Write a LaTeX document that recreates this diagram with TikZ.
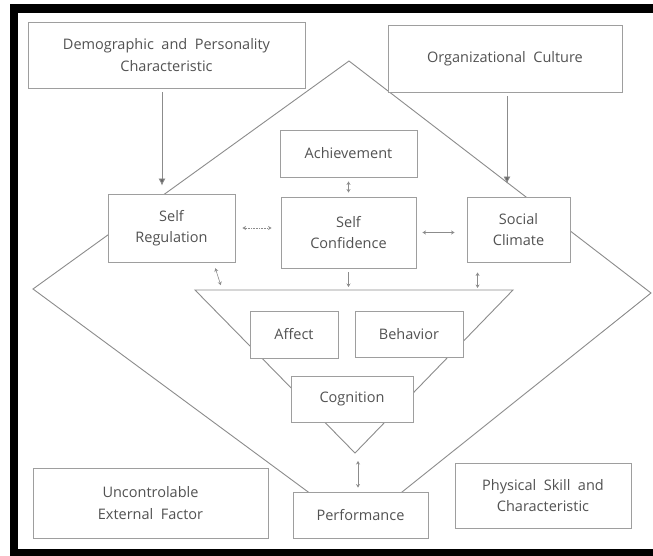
\documentclass[tikz,border=0pt]{standalone}
\usepackage{fontspec}
\setmainfont{Open Sans}
\usetikzlibrary{arrows.meta}
\definecolor{linec}{gray}{0.55}
\definecolor{boxc}{gray}{0.62}
\definecolor{txtc}{gray}{0.32}
\begin{document}
\begin{tikzpicture}[x=1pt,y=-1pt,
  box/.style={draw=boxc, fill=white, line width=0.9pt, text=txtc, align=center,
    inner sep=0pt, font=\fontsize{14.5}{21.5}\selectfont},
  frame/.style={line width=0.9pt, draw=linec},
  bigarr/.style={draw=linec, line width=0.8pt, -{Latex[length=7pt,width=7pt,fill=gray!80!black]}},
  smallarr/.style={draw=linec, line width=0.6pt, {Stealth[length=3.5pt,width=4pt]}-{Stealth[length=3.5pt,width=4pt]}},
  onearr/.style={draw=linec, line width=0.6pt, -{Stealth[length=3.5pt,width=4pt]}}]
\useasboundingbox (0,0) rectangle (653,556);
\fill[white] (0,0) rectangle (653,556);
% black scan frame
\fill[black] (10,4) rectangle (653,13);
\fill[black] (10,4) rectangle (18,556);
\fill[black] (10,549) rectangle (653,556);
% diamond
\coordinate (dT) at (349,61);
\coordinate (dL) at (33,289);
\coordinate (dR) at (651,293);
\coordinate (dB) at (357,528);
\draw[frame] (dT) -- (dL) -- (dB) -- (dR) -- cycle;
% inverted triangle
\coordinate (tL) at (195,290);
\coordinate (tR) at (513,290);
\coordinate (tA) at (355,453);
\draw[frame] (tL) -- (tR) -- (tA) -- cycle;
% boxes
\node[box, minimum width=277pt, minimum height=66pt] (dem) at (166.5,55) {Demographic\ \ and\ \ Personality\\Characteristic};
\node[box, minimum width=234pt, minimum height=67pt] (org) at (505,58.5) {Organizational\ \ Culture};
\node[box, minimum width=137pt, minimum height=47pt] (ach) at (348.5,153.5) {Achievement};
\node[box, minimum width=135pt, minimum height=71pt] (sc) at (348.5,232.5) {Self\\Confidence};
\node[box, minimum width=127pt, minimum height=68pt] (sr) at (171.5,228) {Self\\Regulation};
\node[box, minimum width=103pt, minimum height=65pt] (soc) at (518.5,229.5) {Social\\Climate};
\node[box, minimum width=88pt, minimum height=47pt] (aff) at (294,334.5) {Affect};
\node[box, minimum width=108pt, minimum height=46pt] (beh) at (409,334) {Behavior};
\node[box, minimum width=122pt, minimum height=46pt] (cog) at (352,399) {Cognition};
\node[box, minimum width=135pt, minimum height=46pt] (perf) at (360.5,515) {Performance};
\node[box, minimum width=235pt, minimum height=70pt] (unc) at (150.5,503) {Uncontrolable\\External\ \ Factor};
\node[box, minimum width=176pt, minimum height=65pt] (phy) at (543,495.5) {Physical\ \ Skill\ \ and\\Characteristic};
% big arrows
\draw[bigarr, shorten <=4pt, shorten >=8pt] ([xshift=-4.5pt]dem.south) -- ([xshift=-4.5pt]dem.south |- sr.north);
\draw[bigarr, shorten <=4pt, shorten >=13pt] ([xshift=2pt]org.south) -- ([xshift=2pt]org.south |- soc.north);
% small arrows
\draw[smallarr, shorten <=4pt, shorten >=4pt] (ach.south) -- (sc.north);
\draw[smallarr, densely dotted, shorten <=7pt, shorten >=9pt] (sr.east) -- (sr.east -| sc.west);
\draw[smallarr, shorten <=6pt, shorten >=12pt] (sc.east) -- (sc.east -| soc.west);
\coordinate (t1) at (222,289);
\draw[smallarr, shorten <=6pt, shorten >=4pt] ([xshift=-22pt]sr.south east) -- (t1);
\draw[onearr, shorten <=4pt, shorten >=3pt] (sc.south) -- (sc.south |- tL);
\draw[smallarr, shorten <=10pt, shorten >=2pt] ([xshift=11pt]soc.south west) -- ([xshift=11pt]soc.south west |- tR);
\draw[smallarr, shorten <=8pt, shorten >=4pt] ([xshift=-2.5pt]perf.north |- tA) -- ([xshift=-2.5pt]perf.north);
\end{tikzpicture}
\end{document}
